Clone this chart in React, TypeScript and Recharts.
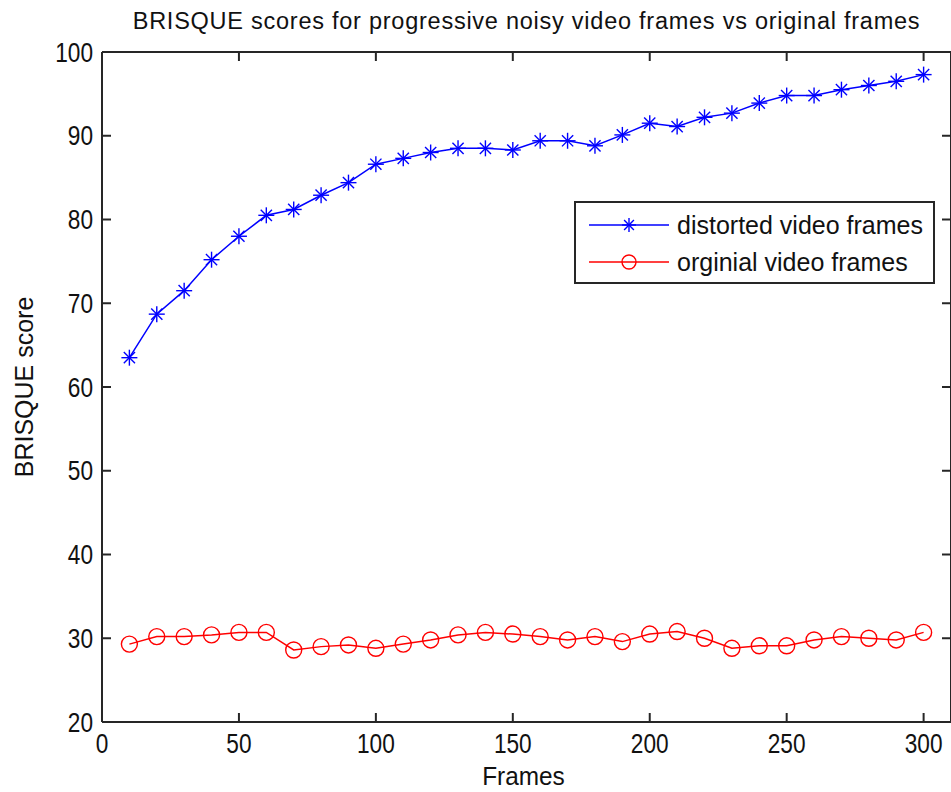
import React from 'react';
import { LineChart, Line, XAxis, YAxis, Legend } from 'recharts';

// Frame indices sampled every 10 frames
const frames = [10, 20, 30, 40, 50, 60, 70, 80, 90, 100, 110, 120, 130, 140, 150, 160, 170, 180, 190, 200, 210, 220, 230, 240, 250, 260, 270, 280, 290, 300];

// BRISQUE scores of the progressively noisier (distorted) frames
const distortedScores = [63.5, 68.7, 71.5, 75.2, 78.0, 80.5, 81.2, 82.9, 84.4, 86.6, 87.3, 88.0, 88.5, 88.5, 88.3, 89.4, 89.4, 88.8, 90.1, 91.5, 91.1, 92.2, 92.7, 93.9, 94.8, 94.8, 95.5, 96.0, 96.5, 97.3];

// BRISQUE scores of the untouched original frames
const originalScores = [29.3, 30.2, 30.2, 30.4, 30.7, 30.7, 28.6, 29.0, 29.2, 28.8, 29.3, 29.8, 30.4, 30.7, 30.5, 30.2, 29.8, 30.2, 29.6, 30.5, 30.8, 30.0, 28.8, 29.1, 29.1, 29.8, 30.2, 30.0, 29.8, 30.7];

const xTicks = [0, 50, 100, 150, 200, 250, 300];
const yTicks = [20, 30, 40, 50, 60, 70, 80, 90, 100];

const titleText = 'BRISQUE scores for progressive noisy video frames vs original frames';
const xLabelText = 'Frames';
const yLabelText = 'BRISQUE score';
const distortedName = 'distorted video frames';
const originalName = 'orginial video frames';

const data = frames.map((f, i) => ({
  frame: f,
  distorted: distortedScores[i],
  original: originalScores[i],
}));

const WIDTH = 951;
const HEIGHT = 792;
const MARGIN = { top: 52, right: 0, bottom: 70, left: 102 };
const PLOT_BOTTOM = HEIGHT - MARGIN.bottom;
const PLOT_LEFT = MARGIN.left;

const FONT = '"Liberation Sans", Arial, Helvetica, sans-serif';
const TEXT_COLOR = '#111';
const AXIS_COLOR = '#262626';
const BLUE = '#0000ff';
const RED = '#ff0000';

// Text with an optional horizontal squeeze; rotation is applied before the squeeze
const NarrowText = ({ x, y, size, sx = 1, spacing = 0, anchor = 'middle', rotate = 0, children }: any) => (
  <g transform={`translate(${x} ${y}) rotate(${rotate}) scale(${sx} 1)`}>
    <text
      x={0}
      y={0}
      textAnchor={anchor}
      fontFamily={FONT}
      fontSize={size}
      letterSpacing={spacing}
      fill={TEXT_COLOR}
    >
      {children}
    </text>
  </g>
);

const Asterisk = (props: any) => {
  const { cx, cy, stroke, size = 8 } = props;
  if (cx == null || cy == null) return null;
  const d = size * 0.7;
  return (
    <g stroke={stroke} strokeWidth={1.4} fill="none">
      <line x1={cx - size} y1={cy} x2={cx + size} y2={cy} />
      <line x1={cx} y1={cy - size} x2={cx} y2={cy + size} />
      <line x1={cx - d} y1={cy - d} x2={cx + d} y2={cy + d} />
      <line x1={cx - d} y1={cy + d} x2={cx + d} y2={cy - d} />
    </g>
  );
};

const Ring = (props: any) => {
  const { cx, cy, stroke, r = 8 } = props;
  if (cx == null || cy == null) return null;
  return <circle cx={cx} cy={cy} r={r} stroke={stroke} strokeWidth={1.4} fill="none" />;
};

const BottomTick = (props: any) => {
  const { x, payload } = props;
  return (
    <NarrowText x={x} y={PLOT_BOTTOM + 31} size={27} sx={0.84}>
      {payload.value}
    </NarrowText>
  );
};

const LeftTick = (props: any) => {
  const { y, payload } = props;
  return (
    <NarrowText x={PLOT_LEFT - 9} y={y + 9.5} size={27} sx={0.84} anchor="end">
      {payload.value}
    </NarrowText>
  );
};

const NoLabel = () => <g />;

const TitleLabel = () => (
  <NarrowText x={(PLOT_LEFT + WIDTH) / 2} y={29} size={23.5} spacing={0.75}>
    {titleText}
  </NarrowText>
);

const XTitle = () => (
  <NarrowText x={(PLOT_LEFT + WIDTH) / 2 - 3} y={785} size={26.5} sx={0.92}>
    {xLabelText}
  </NarrowText>
);

const YTitle = () => (
  <NarrowText x={33} y={387} size={25} rotate={-90}>
    {yLabelText}
  </NarrowText>
);

const LegendBox = () => {
  const rows = [
    { name: distortedName, color: BLUE, kind: 'star' },
    { name: originalName, color: RED, kind: 'ring' },
  ];
  return (
    <div
      style={{
        width: 357,
        height: 79,
        border: `2px solid ${AXIS_COLOR}`,
        background: '#fff',
        position: 'relative',
        fontFamily: FONT,
        fontSize: 25,
        color: TEXT_COLOR,
      }}
    >
      {rows.map((r, i) => (
        <div
          key={r.name}
          style={{ position: 'absolute', left: 0, top: i === 0 ? 4 : 41, height: 36, display: 'flex', alignItems: 'center' }}
        >
          <svg width={100} height={36} style={{ display: 'block', flex: 'none' }}>
            <line x1={13} x2={93} y1={18} y2={18} stroke={r.color} strokeWidth={1.5} />
            {r.kind === 'star' ? (
              <Asterisk cx={53} cy={18} stroke={r.color} size={7} />
            ) : (
              <Ring cx={53} cy={18} stroke={r.color} r={7} />
            )}
          </svg>
          <span style={{ marginLeft: 1, whiteSpace: 'nowrap' }}>{r.name}</span>
        </div>
      ))}
    </div>
  );
};

export default function App() {
  return (
    <div style={{ position: 'absolute', left: 0, top: 0, width: WIDTH, height: HEIGHT, background: '#fff' }}>
      <LineChart width={WIDTH} height={HEIGHT} data={data} margin={MARGIN}>
        <XAxis
          dataKey="frame"
          type="number"
          domain={[0, 310]}
          ticks={xTicks}
          interval={0}
          allowDataOverflow
          mirror
          tickSize={9}
          stroke={AXIS_COLOR}
          strokeWidth={2}
          tick={BottomTick}
          label={<XTitle />}
        />
        <XAxis
          xAxisId="top"
          orientation="top"
          dataKey="frame"
          type="number"
          domain={[0, 310]}
          ticks={xTicks}
          interval={0}
          allowDataOverflow
          mirror
          tickSize={9}
          stroke={AXIS_COLOR}
          strokeWidth={2}
          tick={NoLabel}
          label={<TitleLabel />}
        />
        <YAxis
          type="number"
          domain={[20, 100]}
          ticks={yTicks}
          interval={0}
          allowDataOverflow
          mirror
          tickSize={9}
          stroke={AXIS_COLOR}
          strokeWidth={2}
          tick={LeftTick}
          label={<YTitle />}
        />
        <YAxis
          yAxisId="right"
          orientation="right"
          type="number"
          domain={[20, 100]}
          ticks={yTicks}
          interval={0}
          allowDataOverflow
          mirror
          tickSize={9}
          stroke={AXIS_COLOR}
          strokeWidth={2}
          tick={NoLabel}
        />
        <Legend
          layout="horizontal"
          verticalAlign="middle"
          align="center"
          content={() => <LegendBox />}
          wrapperStyle={{ position: 'absolute', left: 574, top: 201, width: 'auto' }}
        />
        <Line
          dataKey="distorted"
          name={distortedName}
          stroke={BLUE}
          strokeWidth={1.5}
          dot={<Asterisk stroke={BLUE} size={8} />}
          isAnimationActive={false}
        />
        <Line
          dataKey="original"
          name={originalName}
          stroke={RED}
          strokeWidth={1.5}
          dot={<Ring stroke={RED} r={8} />}
          isAnimationActive={false}
        />
      </LineChart>
    </div>
  );
}
